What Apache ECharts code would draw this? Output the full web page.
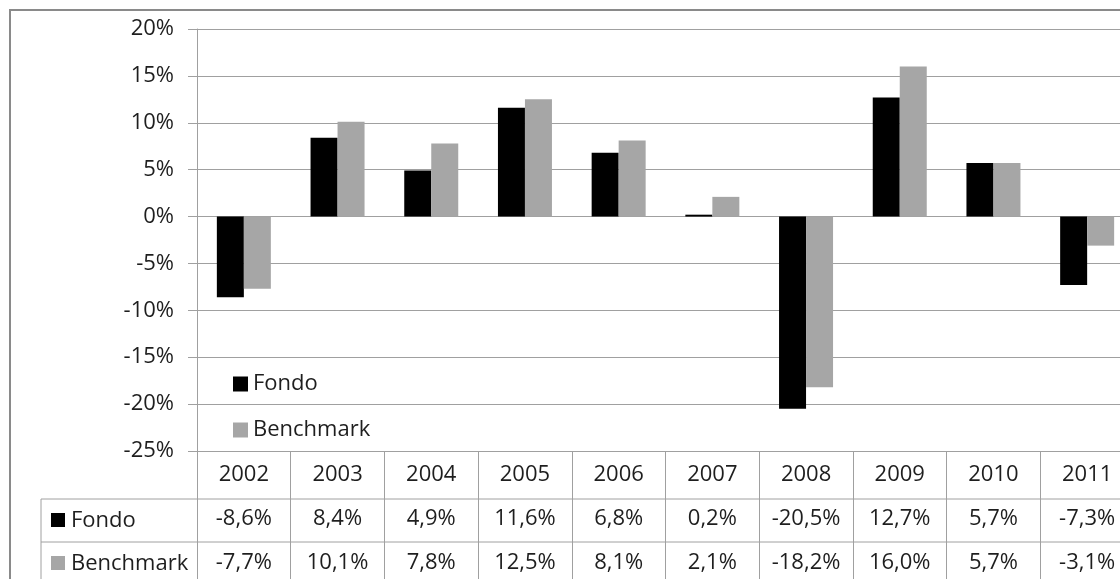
<!DOCTYPE html>
<html>
<head>
<meta charset="utf-8">
<title>Fondo vs Benchmark</title>
<script src="https://cdn.jsdelivr.net/npm/echarts@6/dist/echarts.min.js"></script>
<style>
  html, body { margin: 0; padding: 0; background: #ffffff; }
  #chart { width: 1120px; height: 579px; }
</style>
</head>
<body>
<div id="chart"></div>
<script>
// Annual returns (%)
const years = ['2002', '2003', '2004', '2005', '2006', '2007', '2008', '2009', '2010', '2011'];
const fondo = [-8.6, 8.4, 4.9, 11.6, 6.8, 0.2, -20.5, 12.7, 5.7, -7.3];
const benchmark = [-7.7, 10.1, 7.8, 12.5, 8.1, 2.1, -18.2, 16.0, 5.7, -3.1];
const seriesNames = ['Fondo', 'Benchmark'];
const yTicks = { min: -25, max: 20, step: 5 };

const FONT = '"Open Sans", Lato, sans-serif';
const FONT_SIZE = 22;
const TEXT = '#1e1e1e';
const LINE = '#a0a0a0';
const COLORS = ['#000000', '#a6a6a6'];

// Plot area and data-table geometry
const GRID = { left: 197, top: 29, width: 937, height: 422 };
const TABLE_TOP = GRID.top + GRID.height;
const HEADER_H = 48;
const ROW_H = 43;
const ROW1 = TABLE_TOP + HEADER_H;
const ROW2 = ROW1 + ROW_H;
const TABLE_LEFT = 41;

const pct = v => v.toFixed(1).replace('.', ',') + '%';

const chart = echarts.init(document.getElementById('chart'), null, { renderer: 'canvas' });

// Row header cell: colour key + series name
function rowHeader(name, color, top) {
  const mid = top + ROW_H / 2;
  return [
    { type: 'rect', shape: { x: 51, y: Math.round(mid - 7.5), width: 14, height: 14 },
      style: { fill: color } },
    { type: 'text', x: 71, y: mid,
      style: { text: name, fill: TEXT, font: FONT_SIZE + 'px ' + FONT, textVerticalAlign: 'middle' } }
  ];
}

// One legend entry placed inside the plot area
function legendEntry(name, top) {
  return {
    data: [name],
    orient: 'vertical',
    left: 233, top: top,
    padding: 0,
    icon: 'rect',
    itemWidth: 15, itemHeight: 15,
    itemGap: 6,
    textStyle: { fontSize: FONT_SIZE, color: TEXT, fontFamily: FONT }
  };
}

const hLine = y => ({ type: 'line', shape: { x1: TABLE_LEFT, y1: y, x2: 1200, y2: y },
  style: { stroke: LINE, lineWidth: 1 }, silent: true });

chart.setOption({
  animation: false,
  backgroundColor: '#ffffff',
  textStyle: { fontFamily: FONT },
  grid: { left: GRID.left, top: GRID.top, width: GRID.width, height: GRID.height,
    outerBoundsMode: 'none', containLabel: false },
  legend: [legendEntry(seriesNames[0], 373), legendEntry(seriesNames[1], 419)],
  xAxis: {
    type: 'category',
    data: years,
    position: 'bottom',
    boundaryGap: true,
    axisLine: { show: true, onZero: false, lineStyle: { color: LINE, width: 1 } },
    axisTick: { show: true, interval: 0, alignWithLabel: false, length: 140, lineStyle: { color: LINE, width: 1 } },
    axisLabel: {
      interval: 0,
      margin: 2,
      fontSize: FONT_SIZE,
      lineHeight: 44,
      color: TEXT,
      fontFamily: FONT,
      formatter: (v, i) => v + '\n' + pct(fondo[i]) + '\n' + pct(benchmark[i])
    },
    splitLine: { show: false }
  },
  yAxis: {
    type: 'value',
    min: yTicks.min, max: yTicks.max, interval: yTicks.step,
    axisLine: { show: true, lineStyle: { color: LINE, width: 1 } },
    axisTick: { show: true, length: 9, lineStyle: { color: LINE, width: 1 } },
    axisLabel: { margin: 23, fontSize: FONT_SIZE, color: TEXT, fontFamily: FONT, formatter: v => v + '%' },
    splitLine: { show: true, lineStyle: { color: LINE, width: 1 } }
  },
  series: [
    { name: seriesNames[0], type: 'bar', data: fondo, barWidth: 27, barGap: '0%',
      itemStyle: { color: COLORS[0] } },
    { name: seriesNames[1], type: 'bar', data: benchmark, barWidth: 27, barGap: '0%',
      itemStyle: { color: COLORS[1] } }
  ],
  graphic: [
    // chart frame
    { type: 'rect', shape: { x: 10, y: 10, width: 1300, height: 800 },
      style: { fill: null, stroke: '#8a8a8a', lineWidth: 2 }, silent: true },
    // data table row lines and left edge
    hLine(ROW1),
    hLine(ROW2),
    { type: 'line', shape: { x1: TABLE_LEFT, y1: ROW1, x2: TABLE_LEFT, y2: 700 },
      style: { stroke: LINE, lineWidth: 1 }, silent: true },
    ...rowHeader(seriesNames[0], COLORS[0], ROW1),
    ...rowHeader(seriesNames[1], COLORS[1], ROW2)
  ]
});
</script>
</body>
</html>
